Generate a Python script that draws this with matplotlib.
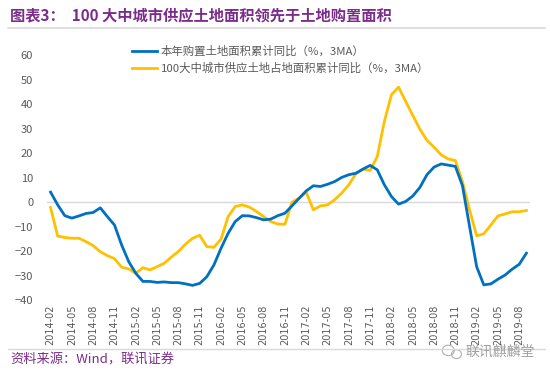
import numpy as np
import pandas as pd
import matplotlib
matplotlib.use("Agg")
import matplotlib.pyplot as plt
from matplotlib.lines import Line2D
from matplotlib.patches import Ellipse

plt.rcParams['font.family'] = ['Noto Sans CJK SC', 'DejaVu Sans']

# monthly, 2014-02 .. 2019-09
months = [p.strftime('%Y-%m') for p in pd.period_range('2014-02', '2019-09', freq='M')]

buy_land = [4.1, -1.1, -5.5, -6.5, -5.6, -4.6, -4.2, -2.3, -5.9, -9.3,
            -17.4, -24.2, -29.0, -32.3, -32.3, -32.7, -32.5, -32.8, -32.8, -33.3,
            -33.9, -33.1, -30.4, -25.6, -18.8, -12.7, -7.9, -5.5, -5.6, -6.3,
            -7.2, -6.9, -5.5, -4.5, -1.5, 1.6, 4.6, 6.7, 6.4, 7.3,
            8.4, 10.1, 11.2, 11.8, 13.5, 15.0, 13.2, 7.1, 2.3, -0.8,
            0.3, 2.5, 6.0, 11.2, 14.3, 15.6, 15.1, 14.6, 6.7, -9.9,
            -26.3, -33.7, -33.3, -31.4, -29.7, -27.3, -25.3, -20.8]

supply_land = [-2.2, -13.8, -14.4, -14.7, -14.7, -16.1, -17.7, -20.2, -21.8, -23.0,
               -26.5, -27.2, -29.0, -26.7, -27.6, -26.3, -24.9, -22.4, -20.1, -17.1,
               -14.7, -13.5, -18.1, -18.4, -15.1, -5.9, -1.8, -1.1, -2.0, -3.8,
               -5.9, -7.9, -8.9, -9.0, 0.0, 1.6, 4.1, -3.1, -1.5, -1.1,
               1.0, 3.7, 7.1, 11.6, 13.5, 12.9, 18.6, 32.9, 43.8, 46.9,
               41.1, 35.4, 29.8, 25.2, 22.4, 19.3, 17.6, 17.0, 8.4, -3.1,
               -13.7, -12.9, -9.3, -5.6, -4.8, -3.9, -3.9, -3.4]

labels = ['本年购置土地面积累计同比（%，3MA）', '100大中城市供应土地占地面积累计同比（%，3MA）']
title = '图表3：  100 大中城市供应土地面积领先于土地购置面积'
source = '资料来源：Wind，联讯证券'

purple = '#7B2C8B'
grey = '#595959'

fig = plt.figure(figsize=(5.5, 3.72), dpi=100)
ax = fig.add_axes([0.0855, 0.1927, 0.878, 0.6595])

x = np.arange(len(months))
ax.axhline(0, color='#D9D9D9', lw=1, zorder=1)
ax.plot(x, buy_land, color='#0070C0', lw=2, label=labels[0], zorder=3)
ax.plot(x, supply_land, color='#FFC000', lw=2, label=labels[1], zorder=2)

ax.set_xlim(-0.5, len(months) - 0.5)
ax.set_ylim(-40, 60)
ax.set_yticks(range(-40, 61, 10))
ax.set_xticks(x[::3])
ax.set_xticklabels(months[::3], rotation=90, fontsize=7, color=grey, family=['DejaVu Sans'])
ax.tick_params(axis='y', labelsize=8, colors=grey, length=0, pad=10)
ax.tick_params(axis='x', length=0, pad=3)
for s in ax.spines.values():
    s.set_visible(False)

handles = [Line2D([0], [0], color='#0070C0', lw=2), Line2D([0], [0], color='#FFC000', lw=2)]
fig.legend(handles, labels, loc='upper left', bbox_to_anchor=(0.222, 0.905), frameon=False,
           fontsize=8.2, labelcolor=grey, handlelength=2.2, handletextpad=0.3, labelspacing=0.5)

fig.text(0.018, 0.958, title, fontsize=11, fontweight='bold', color=purple, va='center')
fig.add_artist(Line2D([0.015, 0.99], [0.925, 0.925], color='#D9D9D9', lw=1.2))
fig.add_artist(Line2D([0.015, 0.99], [0.062, 0.062], color='#D9D9D9', lw=1))
fig.text(0.018, 0.033, source, fontsize=9.5, style='italic', color=purple, va='center')

# watermark
fig.add_artist(Ellipse((0.815, 0.058), 0.022, 0.028, fill=False, ec='#B0B0B0', lw=0.8))
fig.add_artist(Ellipse((0.83, 0.048), 0.018, 0.024, fill=False, ec='#B0B0B0', lw=0.8))
fig.text(0.847, 0.054, '联讯麒麟堂', fontsize=10, color='#A0A0A0', va='center')

fig.savefig('out.png', dpi=100)
